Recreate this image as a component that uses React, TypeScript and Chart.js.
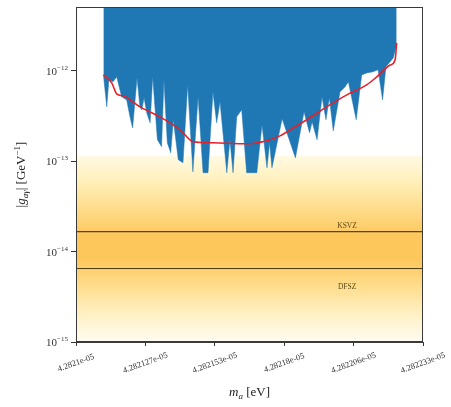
import { useEffect, useRef } from "react";
import { Chart, registerables } from "chart.js";

Chart.register(...registerables);

// ---- data (axion mass in neV, coupling in GeV^-1) ----
const xTickValues = [42821.0, 42821.266, 42821.532, 42821.798, 42822.064, 42822.33];
const xTickLabels = ["4.2821e-05", "4.282127e-05", "4.282153e-05", "4.28218e-05", "4.282206e-05", "4.282233e-05"];
const yTickExponents = [-15, -14, -13, -12];

const exclusionMass = [
  42821.105, 42821.118, 42821.126, 42821.142, 42821.156, 42821.175, 42821.194, 42821.207, 42821.217,
  42821.234, 42821.245, 42821.252, 42821.261, 42821.271, 42821.284, 42821.294, 42821.312, 42821.328,
  42821.337, 42821.35, 42821.363, 42821.373, 42821.392, 42821.41, 42821.428, 42821.448, 42821.468,
  42821.487, 42821.506, 42821.525, 42821.539, 42821.552, 42821.578, 42821.59, 42821.602, 42821.616,
  42821.635, 42821.654, 42821.693, 42821.713, 42821.732, 42821.742, 42821.751, 42821.79, 42821.841,
  42821.874, 42821.895, 42821.905, 42821.924, 42821.943, 42821.958, 42821.971, 42821.986, 42822.012,
  42822.031, 42822.044, 42822.074, 42822.095, 42822.114, 42822.138, 42822.158, 42822.175, 42822.188,
  42822.216, 42822.229,
];
const exclusionCoupling = [
  9.03e-13, 4.0e-13, 7.96e-13, 7.56e-13, 8.59e-13, 5.16e-13, 4.78e-13, 3.1e-13, 2.34e-13,
  8.37e-13, 4.0e-13, 3.71e-13, 5.03e-13, 3.43e-13, 2.66e-13, 8.59e-13, 1.73e-13, 1.45e-13,
  7.96e-13, 1.6e-13, 1.24e-13, 2.88e-13, 1.04e-13, 9.62e-14, 7.0e-13, 7.66e-14, 5.16e-13,
  7.47e-14, 7.47e-14, 5.86e-13, 2.66e-13, 4.54e-13, 7.47e-14, 1.73e-13, 7.47e-14, 3.1e-13,
  3.71e-13, 7.47e-14, 7.47e-14, 2.53e-13, 8.47e-14, 1.6e-13, 8.47e-14, 2.95e-13, 1.09e-13,
  3.52e-13, 2.07e-13, 2.73e-13, 1.73e-13, 5.16e-13, 2.88e-13, 5.03e-13, 2.17e-13, 5.86e-13,
  6.65e-13, 7.56e-13, 2.88e-13, 9.03e-13, 9.5e-13, 9.75e-13, 1.03e-12, 4.78e-13, 1.11e-12,
  1.39e-12, 1.94e-12,
];

const expectedMass = [
  42821.105, 42821.137, 42821.156, 42821.181, 42821.245, 42821.322, 42821.399, 42821.45, 42821.525,
  42821.654, 42821.731, 42821.782, 42821.833, 42821.884, 42821.961, 42822.038, 42822.114, 42822.153,
  42822.204, 42822.223, 42822.229,
];
const expectedCoupling = [
  9.03e-13, 7.37e-13, 5.57e-13, 5.29e-13, 4.0e-13, 3.1e-13, 2.23e-13, 1.64e-13, 1.6e-13,
  1.56e-13, 1.69e-13, 1.91e-13, 2.34e-13, 2.88e-13, 4.0e-13, 5.43e-13, 7.0e-13, 8.59e-13,
  1.16e-12, 1.32e-12, 2.04e-12,
];

const xMin = 42821.0;
const xMax = 42822.33;
const yMin = 1e-15;
const yMax = 5.09e-12;
const ksvzCoupling = 1.66e-14;
const dfszCoupling = 6.5e-15;
const bandTopCoupling = 1.15e-13;
const modelLabelMass = 42822.039;

// ---- styles ----
const FAMILY = "'Liberation Serif', 'DejaVu Serif', serif";
const bandStops: [number, string][] = [
  [1.15e-13, "rgb(255,250,228)"],
  [5.5e-14, "rgb(255,238,180)"],
  [2.6e-14, "rgb(254,216,130)"],
  [1.5e-14, "rgb(253,199,92)"],
  [8.2e-15, "rgb(253,199,92)"],
  [4.3e-15, "rgb(254,220,138)"],
  [2.0e-15, "rgb(255,241,198)"],
  [1.0e-15, "rgb(255,252,242)"],
];

type Seg = { t: string; size: number; italic?: boolean; dy?: number };

function richWidth(ctx: CanvasRenderingContext2D, segs: Seg[]) {
  let w = 0;
  for (const s of segs) {
    ctx.font = `${s.italic ? "italic " : ""}${s.size}px ${FAMILY}`;
    w += ctx.measureText(s.t).width;
  }
  return w;
}

function drawRich(ctx: CanvasRenderingContext2D, segs: Seg[], x: number, baseline: number) {
  ctx.textAlign = "left";
  ctx.textBaseline = "alphabetic";
  let cx = x;
  for (const s of segs) {
    ctx.font = `${s.italic ? "italic " : ""}${s.size}px ${FAMILY}`;
    ctx.fillText(s.t, cx, baseline + (s.dy || 0));
    cx += ctx.measureText(s.t).width;
  }
}

export default function App() {
  const ref = useRef<HTMLCanvasElement>(null);

  useEffect(() => {
    const canvas = ref.current;
    if (!canvas) return;

    const bandPlugin = {
      id: "qcdBand",
      beforeDatasetsDraw(chart: any) {
        const { ctx, chartArea: a, scales } = chart;
        const ys = scales.y;
        const top = ys.getPixelForValue(bandTopCoupling);
        const bottom = a.bottom;
        const g = ctx.createLinearGradient(0, top, 0, bottom);
        for (const [v, c] of bandStops) {
          const p = ys.getPixelForValue(v);
          g.addColorStop(Math.min(1, Math.max(0, (p - top) / (bottom - top))), c);
        }
        ctx.save();
        ctx.beginPath();
        ctx.rect(a.left, a.top, a.right - a.left, a.bottom - a.top);
        ctx.clip();
        ctx.fillStyle = g;
        ctx.fillRect(a.left, top, a.right - a.left, bottom - top);
        ctx.restore();
      },
    };

    const textPlugin = {
      id: "texts",
      afterDraw(chart: any) {
        const { ctx, chartArea: a, scales } = chart;
        const xs = scales.x;
        const ys = scales.y;
        ctx.save();
        // frame
        ctx.strokeStyle = "#3a3a3a";
        ctx.lineWidth = 1;
        ctx.strokeRect(a.left + 0.5, a.top + 0.5, a.right - a.left - 1, a.bottom - a.top - 1);

        // y tick labels
        ctx.fillStyle = "#333";
        for (const e of yTickExponents) {
          const py = ys.getPixelForValue(Math.pow(10, e));
          const sup: Seg[] = [{ t: "\u2212" + String(Math.abs(e)), size: 7 }];
          const supW = richWidth(ctx, sup);
          const base: Seg[] = [{ t: "10", size: 11 }];
          const baseW = richWidth(ctx, base);
          const right = a.left - 8;
          drawRich(ctx, base, right - supW - baseW, py + 4);
          drawRich(ctx, sup, right - supW, py - 1);
        }

        // x tick labels (rotated, centred on tick)
        ctx.font = `8.5px ${FAMILY}`;
        ctx.textAlign = "center";
        ctx.textBaseline = "middle";
        xTickValues.forEach((v, i) => {
          const px = xs.getPixelForValue(v);
          ctx.save();
          ctx.translate(px, a.bottom + 21);
          ctx.rotate((-20 * Math.PI) / 180);
          ctx.fillText(xTickLabels[i], 0, 0);
          ctx.restore();
        });

        // model labels
        ctx.fillStyle = "#5a4818";
        ctx.font = `7.5px ${FAMILY}`;
        ctx.textAlign = "center";
        ctx.textBaseline = "middle";
        const lx = xs.getPixelForValue(modelLabelMass);
        ctx.fillText("KSVZ", lx, ys.getPixelForValue(ksvzCoupling) - 6);
        ctx.fillText("DFSZ", lx, ys.getPixelForValue(dfszCoupling) + 18);

        // axis titles
        ctx.fillStyle = "#222";
        const xTitle: Seg[] = [
          { t: "m", size: 13, italic: true },
          { t: "a", size: 9, italic: true, dy: 3 },
          { t: " [eV]", size: 13 },
        ];
        const xw = richWidth(ctx, xTitle);
        drawRich(ctx, xTitle, (a.left + a.right) / 2 - xw / 2, 396);

        const yTitle: Seg[] = [
          { t: "|", size: 13 },
          { t: "g", size: 13, italic: true },
          { t: "a\u03b3", size: 9, italic: true, dy: 3 },
          { t: "| [GeV", size: 13 },
          { t: "\u22121", size: 9, dy: -5 },
          { t: "]", size: 13 },
        ];
        const yw = richWidth(ctx, yTitle);
        ctx.save();
        ctx.translate(25, (a.top + a.bottom) / 2);
        ctx.rotate(-Math.PI / 2);
        drawRich(ctx, yTitle, -yw / 2, 0);
        ctx.restore();

        ctx.restore();
      },
    };

    const chart = new Chart(canvas, {
      type: "line",
      data: {
        datasets: [
          {
            label: "expected",
            data: expectedMass.map((m, i) => ({ x: m, y: expectedCoupling[i] })),
            borderColor: "rgb(232,32,40)",
            borderWidth: 1.6,
            pointRadius: 0,
            fill: false,
            cubicInterpolationMode: "monotone",
          },
          {
            label: "KSVZ",
            data: [
              { x: xMin, y: ksvzCoupling },
              { x: xMax, y: ksvzCoupling },
            ],
            borderColor: "#2e2208",
            borderWidth: 1,
            pointRadius: 0,
            fill: false,
          },
          {
            label: "DFSZ",
            data: [
              { x: xMin, y: dfszCoupling },
              { x: xMax, y: dfszCoupling },
            ],
            borderColor: "#4a3a12",
            borderWidth: 1,
            pointRadius: 0,
            fill: false,
          },
          {
            label: "excluded",
            data: exclusionMass.map((m, i) => ({ x: m, y: exclusionCoupling[i] })),
            borderColor: "#1f77b4",
            borderWidth: 0.5,
            backgroundColor: "#1f77b4",
            pointRadius: 0,
            fill: "end",
            tension: 0,
          },
        ],
      },
      options: {
        animation: false,
        responsive: false,
        maintainAspectRatio: false,
        layout: { padding: { left: 0, top: 7, right: 28, bottom: 0 } },
        plugins: { legend: { display: false }, tooltip: { enabled: false } },
        scales: {
          x: {
            type: "linear",
            min: xMin,
            max: xMax,
            afterBuildTicks: (s: any) => {
              s.ticks = xTickValues.map((v) => ({ value: v }));
            },
            afterFit: (s: any) => {
              s.height = 65;
            },
            ticks: { display: false },
            grid: { drawOnChartArea: false, drawTicks: true, tickLength: 4, tickColor: "#333", tickWidth: 1 },
            border: { display: true, color: "#3a3a3a", width: 1 },
          },
          y: {
            type: "logarithmic",
            min: yMin,
            max: yMax,
            afterBuildTicks: (s: any) => {
              s.ticks = yTickExponents.map((e) => ({ value: Math.pow(10, e) }));
            },
            afterFit: (s: any) => {
              s.width = 76;
            },
            ticks: { display: false },
            grid: { drawOnChartArea: false, drawTicks: true, tickLength: 5, tickColor: "#333", tickWidth: 1 },
            border: { display: true, color: "#3a3a3a", width: 1 },
          },
        },
      },
      plugins: [bandPlugin, textPlugin],
    } as any);

    return () => chart.destroy();
  }, []);

  return (
    <div style={{ position: "absolute", left: 0, top: 0, width: 451, height: 407, background: "#fff" }}>
      <canvas ref={ref} width={451} height={407} style={{ display: "block", width: 451, height: 407 }} />
    </div>
  );
}
